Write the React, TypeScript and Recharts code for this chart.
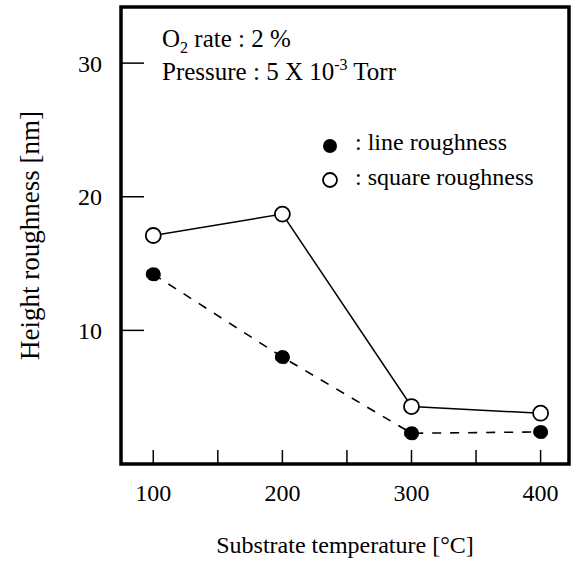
import React from 'react';
import { LineChart, Line, XAxis, YAxis, ReferenceArea, Legend } from 'recharts';

const temperatures = [100, 200, 300, 400];
const lineRoughness = [14.2, 8.0, 2.3, 2.4];
const squareRoughness = [17.1, 18.7, 4.3, 3.8];
const xTicks = [100, 150, 200, 250, 300, 350, 400];
const xLabelTicks = [100, 200, 300, 400];
const yTicks = [10, 20, 30];
const seriesNames = ['line roughness', 'square roughness'];

const FONT = '"Liberation Serif", "DejaVu Serif", serif';

const data = temperatures.map((t, i) => ({
  t,
  line: lineRoughness[i],
  square: squareRoughness[i],
}));

function LegendBox() {
  return (
    <svg width={240} height={70} style={{ display: 'block' }}>
      <circle cx={12} cy={16} r={7} fill="#000" />
      <text x={37} y={20} fontFamily={FONT} fontSize={24} fill="#000">
        : {seriesNames[0]}
      </text>
      <circle cx={12} cy={50} r={7} fill="#fff" stroke="#000" strokeWidth={1.8} />
      <text x={37} y={55} fontFamily={FONT} fontSize={24} fill="#000">
        : {seriesNames[1]}
      </text>
    </svg>
  );
}

export default function App() {
  return (
    <div style={{ position: 'absolute', left: 0, top: 0, width: 575, height: 561, background: '#fff' }}>
      <LineChart
        width={575}
        height={561}
        data={data}
        margin={{ top: 7, right: 6, bottom: 0, left: 0 }}
        style={{ fontFamily: FONT }}
      >
        <XAxis
          type="number"
          dataKey="t"
          domain={[75, 422]}
          ticks={xTicks}
          allowDataOverflow
          height={97}
          axisLine={false}
          tickSize={-14}
          tickMargin={34}
          tickLine={{ stroke: '#000', strokeWidth: 1.5 }}
          tick={{ fill: '#000', fontSize: 24, fontFamily: FONT }}
          tickFormatter={(v: number) => (xLabelTicks.includes(v) ? String(v) : '')}
          label={{
            value: 'Substrate temperature [°C]',
            position: 'insideBottom',
            offset: 8,
            fill: '#000',
            fontSize: 24,
            fontFamily: FONT,
          }}
        />
        <YAxis
          type="number"
          domain={[0, 34.2]}
          ticks={yTicks}
          allowDataOverflow
          width={121}
          axisLine={false}
          tickSize={-23}
          tickMargin={42}
          tickLine={{ stroke: '#000', strokeWidth: 1.5 }}
          tick={{ fill: '#000', fontSize: 24, fontFamily: FONT }}
          label={{
            value: 'Height roughness [nm]',
            angle: -90,
            position: 'insideLeft',
            offset: 29,
            fill: '#000',
            fontSize: 27,
            fontFamily: FONT,
            style: { textAnchor: 'middle' },
          }}
        />
        <ReferenceArea
          x1={75}
          x2={422}
          y1={0}
          y2={34.2}
          fill="none"
          stroke="#000"
          strokeWidth={3.5}
          ifOverflow="visible"
        />
        <Line
          dataKey="line"
          name={seriesNames[0]}
          stroke="#000"
          strokeWidth={1.6}
          strokeDasharray="9 9"
          dot={{ r: 7, fill: '#000', stroke: '#000', strokeWidth: 1 }}
          isAnimationActive={false}
        />
        <Line
          dataKey="square"
          name={seriesNames[1]}
          stroke="#000"
          strokeWidth={1.5}
          dot={{ r: 7.5, fill: '#fff', stroke: '#000', strokeWidth: 1.8 }}
          isAnimationActive={false}
        />
        <Legend
          layout="horizontal"
          verticalAlign="middle"
          align="center"
          content={() => <LegendBox />}
          wrapperStyle={{ position: 'absolute', left: 318, top: 130, width: 240, height: 70 }}
        />
      </LineChart>
      <svg
        width={575}
        height={561}
        style={{ position: 'absolute', left: 0, top: 0, pointerEvents: 'none' }}
      >
        <text x={162} y={47} fontFamily={FONT} fontSize={25} fill="#000">
          O<tspan fontSize={16} dy={6}>2</tspan>
          <tspan dy={-6}> rate : 2 %</tspan>
        </text>
        <text x={162} y={80} fontFamily={FONT} fontSize={25} fill="#000">
          Pressure : 5 X 10<tspan fontSize={16} dy={-10}>-3</tspan>
          <tspan dy={10}> Torr</tspan>
        </text>
      </svg>
    </div>
  );
}
